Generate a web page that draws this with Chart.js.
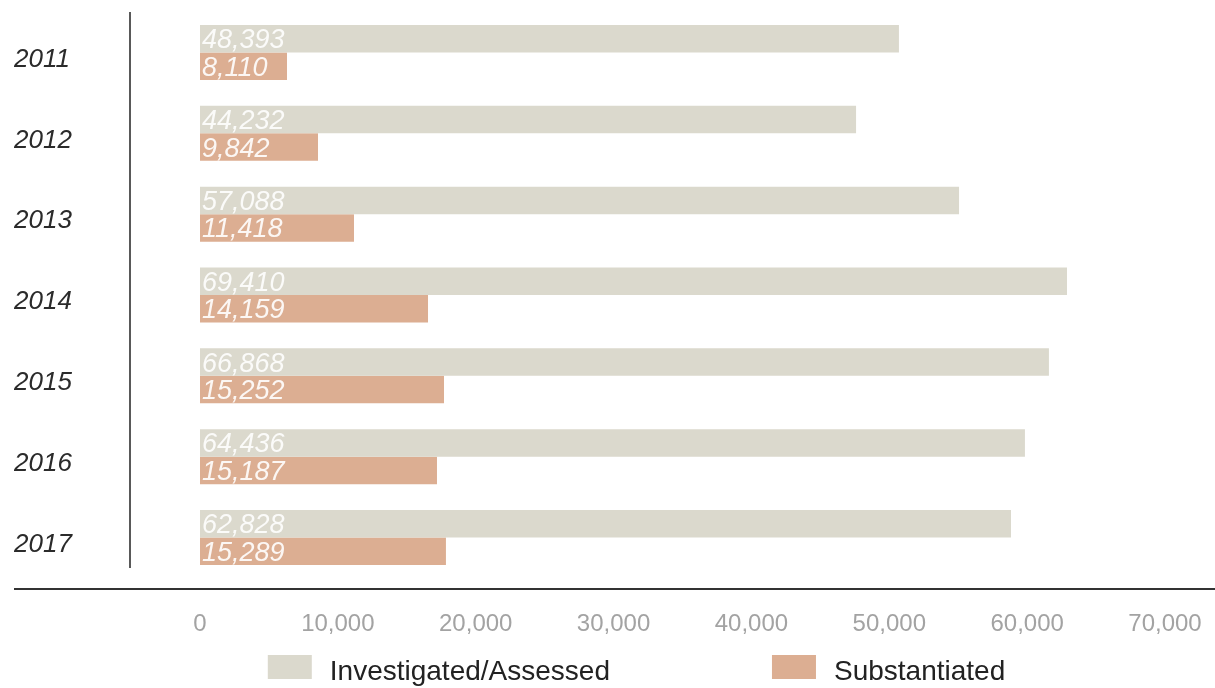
<!DOCTYPE html>
<html>
<head>
<meta charset="utf-8">
<title>Investigated / Substantiated</title>
<script src="https://cdn.jsdelivr.net/npm/chart.js@4.4.1/dist/chart.umd.min.js"></script>
<style>
  html, body { margin: 0; padding: 0; background: #fff; }
  #chart { display: block; }
</style>
</head>
<body>
<canvas id="chart" width="1215" height="688"></canvas>
<script>
// values (bar lengths against the axis) and the printed figures
const years = ['2011', '2012', '2013', '2014', '2015', '2016', '2017'];
const investigatedBars = [50700, 47590, 55060, 62890, 61580, 59840, 58830];
const substantiatedBars = [6310, 8560, 11170, 16540, 17700, 17190, 17840];
const investigatedPrinted = [48393, 44232, 57088, 69410, 66868, 64436, 62828];
const substantiatedPrinted = [8110, 9842, 11418, 14159, 15252, 15187, 15289];
const xTicks = [0, 10000, 20000, 30000, 40000, 50000, 60000, 70000];

const FONT = '"Liberation Sans", Arial, Helvetica, sans-serif';

// axis lines: vertical line by the years, long rule above the tick labels
const framePlugin = {
    id: 'frame',
    afterDraw(chart) {
        const ctx = chart.ctx;
        const area = chart.chartArea;
        const meta = chart.getDatasetMeta(chart.data.datasets.length - 1);
        const last = meta.data[meta.data.length - 1];
        ctx.save();
        ctx.strokeStyle = '#222';
        ctx.lineWidth = 1.5;
        ctx.beginPath();
        ctx.moveTo(area.left, area.top);
        ctx.lineTo(area.left, last.y + last.height / 2 + 3);
        ctx.stroke();

        const y = chart.scales.x.top + 11;
        ctx.lineWidth = 2;
        ctx.strokeStyle = '#333';
        ctx.beginPath();
        ctx.moveTo(chart.options.layout.padding.left, y);
        ctx.lineTo(chart.width, y);
        ctx.stroke();
        ctx.restore();
    }
};

// printed figures inside the bars
const barTextPlugin = {
    id: 'barText',
    afterDatasetsDraw(chart) {
        const ctx = chart.ctx;
        ctx.save();
        ctx.font = 'italic 27px ' + FONT;
        ctx.textAlign = 'left';
        ctx.textBaseline = 'middle';
        chart.data.datasets.forEach((ds, i) => {
            ctx.fillStyle = ds.textColor;
            chart.getDatasetMeta(i).data.forEach((bar, j) => {
                ctx.fillText(ds.printed[j].toLocaleString('en-US'), bar.base + 2, bar.y + 2);
            });
        });
        ctx.restore();
    }
};

// legend under the axis
const legendPlugin = {
    id: 'bottomLegend',
    afterDraw(chart) {
        const ctx = chart.ctx;
        const boxW = 44, boxH = 24, gap = 18, itemGap = 162;
        const y = 667;
        ctx.save();
        ctx.font = '28px ' + FONT;
        ctx.textBaseline = 'middle';
        const items = chart.data.datasets.map(ds => ({
            text: ds.label, color: ds.backgroundColor, w: ctx.measureText(ds.label).width
        }));
        let total = 0;
        items.forEach((it, i) => { total += boxW + gap + it.w + (i ? itemGap : 0); });
        let x = chart.width / 2 + 29 - total / 2;
        items.forEach(it => {
            ctx.fillStyle = it.color;
            ctx.fillRect(x, y - boxH / 2, boxW, boxH);
            ctx.fillStyle = '#222';
            ctx.fillText(it.text, x + boxW + gap, y + 5);
            x += boxW + gap + it.w + itemGap;
        });
        ctx.restore();
    }
};

const noScalePadding = scale => {
    scale.paddingLeft = 0;
    scale.paddingRight = 0;
    scale.paddingTop = 0;
    scale.paddingBottom = 0;
};

const ctx = document.getElementById('chart').getContext('2d');
const myChart = new Chart(ctx, {
    type: 'bar',
    data: {
        labels: years,
        datasets: [{
            label: 'Investigated/Assessed',
            data: investigatedBars,
            printed: investigatedPrinted,
            backgroundColor: '#dbd9cd',
            textColor: 'rgba(255,255,255,0.88)'
        }, {
            label: 'Substantiated',
            data: substantiatedBars,
            printed: substantiatedPrinted,
            backgroundColor: '#dcae92',
            textColor: 'rgba(255,255,255,0.9)'
        }]
    },
    options: {
        indexAxis: 'y',
        responsive: false,
        animation: false,
        layout: { padding: { top: 12, left: 14, right: 0, bottom: 0 } },
        datasets: { bar: { categoryPercentage: 0.68, barPercentage: 1 } },
        plugins: {
            legend: { display: false },
            tooltip: { enabled: false }
        },
        scales: {
            x: {
                type: 'linear',
                min: -5078,
                max: 73627,
                grid: { display: false, drawTicks: false },
                border: { display: false },
                afterBuildTicks: scale => { scale.ticks = xTicks.map(v => ({ value: v })); },
                afterFit: scale => { scale.height = 110; noScalePadding(scale); },
                ticks: {
                    padding: 32,
                    autoSkip: false,
                    maxRotation: 0,
                    color: '#a3a3a3',
                    font: { family: FONT, size: 24 },
                    callback: v => Number(v).toLocaleString('en-US')
                }
            },
            y: {
                grid: { display: false, drawTicks: false },
                border: { display: false },
                afterFit: scale => { scale.width = 116; noScalePadding(scale); },
                ticks: {
                    crossAlign: 'far',
                    labelOffset: 7,
                    padding: 0,
                    color: '#2b2b2b',
                    font: { family: FONT, size: 26, style: 'italic' }
                }
            }
        }
    },
    plugins: [framePlugin, barTextPlugin, legendPlugin]
});
</script>
</body>
</html>
